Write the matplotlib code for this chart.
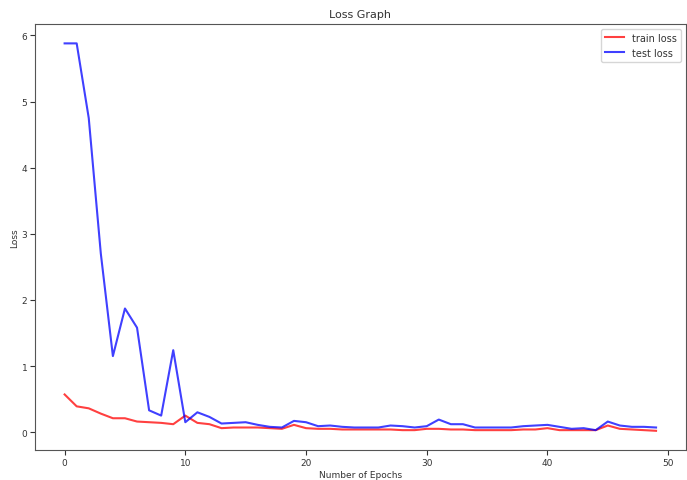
import matplotlib
matplotlib.use("Agg")
from matplotlib import pyplot as plt

epochs = list(range(50))

train_loss = [0.57, 0.39, 0.36, 0.28, 0.21, 0.21, 0.16, 0.15, 0.14, 0.12,
              0.25, 0.14, 0.12, 0.06, 0.07, 0.07, 0.07, 0.06, 0.05, 0.11,
              0.06, 0.05, 0.05, 0.04, 0.04, 0.04, 0.04, 0.04, 0.03, 0.03,
              0.05, 0.05, 0.04, 0.04, 0.03, 0.03, 0.03, 0.03, 0.04, 0.04,
              0.06, 0.03, 0.03, 0.03, 0.03, 0.10, 0.05, 0.04, 0.03, 0.02]

test_loss = [5.88, 5.88, 4.75, 2.70, 1.15, 1.87, 1.58, 0.33, 0.25, 1.24,
             0.15, 0.30, 0.23, 0.13, 0.14, 0.15, 0.11, 0.08, 0.07, 0.17,
             0.15, 0.09, 0.10, 0.08, 0.07, 0.07, 0.07, 0.10, 0.09, 0.07,
             0.09, 0.19, 0.12, 0.12, 0.07, 0.07, 0.07, 0.07, 0.09, 0.10,
             0.11, 0.08, 0.05, 0.06, 0.03, 0.16, 0.10, 0.08, 0.08, 0.07]

plt.rc('font', size=6.5)
plt.rc('text', color="#333333")
plt.rc('axes', labelcolor="#333333")
plt.rc('xtick', color="#333333")
plt.rc('ytick', color="#333333")

fig = plt.figure(figsize=(6.87, 4.81), dpi=100)
ax = fig.add_axes([0.051, 0.062, 0.947, 0.886])

ax.plot(epochs, train_loss, color="red", alpha=0.75, linewidth=1.5, label="train loss")
ax.plot(epochs, test_loss, color="blue", alpha=0.75, linewidth=1.5, label="test loss")

ax.set_title("Loss Graph", fontsize=8, pad=5)
ax.set_xlabel("Number of Epochs", labelpad=2)
ax.set_ylabel("Loss", labelpad=2)
ax.set_xticks([0, 10, 20, 30, 40, 50])
ax.set_yticks([0, 1, 2, 3, 4, 5, 6])
ax.tick_params(pad=2)
ax.legend(loc="upper right", fontsize=7)

for s in ax.spines.values():
    s.set_color("#555555")

plt.savefig("out.png", dpi=100)
